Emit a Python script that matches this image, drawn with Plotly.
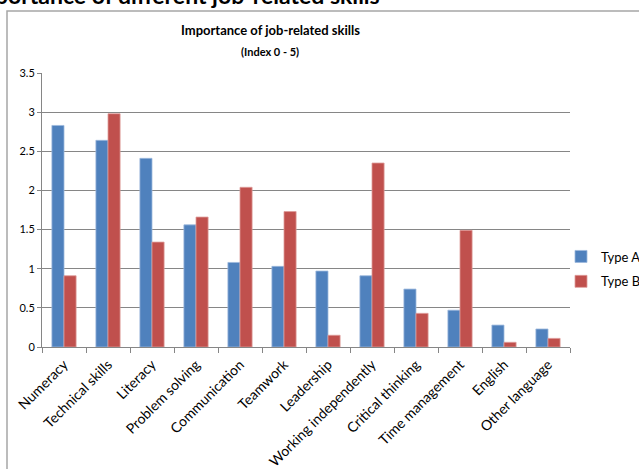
import plotly.graph_objects as go

categories = ["Numeracy", "Technical skills", "Literacy", "Problem solving",
              "Communication", "Teamwork", "Leadership", "Working independently",
              "Critical thinking", "Time management", "English", "Other language"]
type_a = [2.83, 2.64, 2.41, 1.56, 1.08, 1.03, 0.97, 0.91, 0.74, 0.47, 0.28, 0.23]
type_b = [0.91, 2.98, 1.34, 1.66, 2.04, 1.73, 0.15, 2.35, 0.43, 1.49, 0.06, 0.11]
y_ticks = [0, 0.5, 1, 1.5, 2, 2.5, 3, 3.5]
y_tick_labels = ["0", "0.5", "1", "1.5", "2", "2.5", "3", "3.5"]

FONT = "Lato, 'Open Sans', sans-serif"

# plot area in pixels: x 42..570, y 73..347
PL, PR, PT, PB = 42, 570, 73, 347
def px(x):
    return (x - PL) / (PR - PL)
def py(y):
    return (PB - y) / (PB - PT)

fig = go.Figure()
fig.add_trace(go.Bar(name="Type A", x=categories, y=type_a, legendgroup="a",
                     marker=dict(color="#4F81BD", line=dict(color="#9DB9DD", width=0.8))))
fig.add_trace(go.Bar(name="Type B", x=categories, y=type_b, legendgroup="b",
                     marker=dict(color="#C0504D", line=dict(color="#DE9C9A", width=0.8))))

fig.update_layout(
    width=639, height=469,
    margin=dict(l=PL, r=639 - PR, t=PT, b=469 - PB, autoexpand=False),
    paper_bgcolor="white", plot_bgcolor="white",
    barmode="group", bargap=0.45, bargroupgap=0,
    font=dict(family=FONT, size=11, color="#000000"),
    showlegend=True,
    legend=dict(x=px(561), xanchor="left", y=py(269), yanchor="middle",
                xref="paper", yref="paper",
                font=dict(size=13, family=FONT), bgcolor="rgba(0,0,0,0)",
                itemwidth=30, tracegroupgap=5),
    shapes=[
        dict(type="rect", xref="paper", yref="paper",
             x0=px(7), x1=px(660), y0=py(490), y1=py(11),
             line=dict(color="#A6A6A6", width=1.5), fillcolor="rgba(0,0,0,0)",
             layer="below"),
    ],
    annotations=[
        dict(text="<b>Importance of job-related skills</b>", xref="paper", yref="paper",
             x=px(270), y=py(30), xanchor="center", yanchor="middle", showarrow=False,
             font=dict(size=13, family=FONT)),
        dict(text="<b>(Index 0 - 5)</b>", xref="paper", yref="paper",
             x=px(270), y=py(51), xanchor="center", yanchor="middle", showarrow=False,
             font=dict(size=11, family=FONT)),
        dict(text="<b>Importance of different job-related skills</b>", xref="paper", yref="paper",
             x=px(382), y=py(11), xanchor="right", yanchor="bottom", showarrow=False,
             font=dict(size=23, family=FONT)),
    ],
)

fig.update_xaxes(
    type="category", tickson="boundaries", ticks="outside", ticklen=5,
    tickcolor="#868686", showline=True, linecolor="#868686", linewidth=1,
    showgrid=False, tickangle=-45, tickfont=dict(size=14, family=FONT),
    ticklabelstandoff=3,
)
fig.update_yaxes(
    range=[0, 3.5], tickvals=y_ticks, ticktext=y_tick_labels,
    ticks="outside", ticklen=4, tickcolor="#868686",
    showline=True, linecolor="#868686", linewidth=1,
    showgrid=True, gridcolor="#868686", gridwidth=1, zeroline=False,
    tickfont=dict(size=11, family=FONT),
)

fig.write_html("out.html", config={"displayModeBar": False},
               post_script="document.body.style.margin='0';document.body.style.overflow='hidden';")
